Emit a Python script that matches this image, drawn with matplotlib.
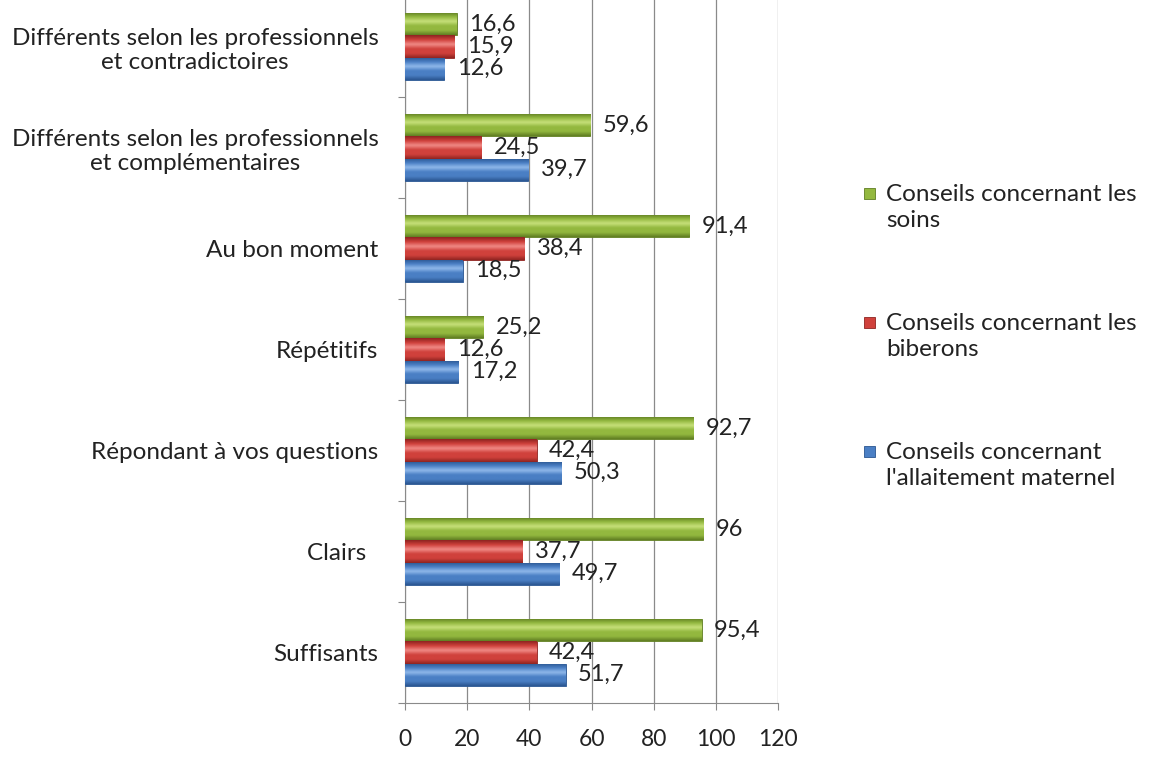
import numpy as np
import matplotlib.pyplot as plt
from matplotlib.patches import Rectangle
from matplotlib.colors import LinearSegmentedColormap

plt.rcParams['font.family'] = ['Lato', 'DejaVu Sans']

# Données
categories = ['Suffisants', 'Clairs  ', 'Répondant à vos questions', 'Répétitifs',
              'Au bon moment', 'Différents selon les professionnels\net complémentaires',
              'Différents selon les professionnels\net contradictoires']
allaitement = [51.7, 49.7, 50.3, 17.2, 18.5, 39.7, 12.6]
biberons = [42.4, 37.7, 42.4, 12.6, 38.4, 24.5, 15.9]
soins = [95.4, 96, 92.7, 25.2, 91.4, 59.6, 16.6]

noms = ['Conseils concernant\nl\'allaitement maternel',
        'Conseils concernant les\nbiberons',
        'Conseils concernant les\nsoins']
series = [allaitement, biberons, soins]
# (clair, moyen, sombre) pour un effet de relief
couleurs = [('#8fb8ea', '#4a7fc4', '#2a5590'),
            ('#f08a86', '#d0413c', '#8e2421'),
            ('#c6e07a', '#93b83f', '#5f7d22')]

fig = plt.figure(figsize=(11.51, 7.58), dpi=100)
ax = fig.add_axes([405 / 1151, 1 - 703 / 758, 373 / 1151, 707 / 758])

y = np.arange(len(categories))
h = 0.22
decal = [-0.22, 0.0, 0.22]

for vals, off, (c1, c2, c3) in zip(series, decal, couleurs):
    cmap = LinearSegmentedColormap.from_list('g', [c3, c2, c2, c1, c2, c3])
    grad = np.linspace(0, 1, 64).reshape(-1, 1)
    bars = ax.barh(y + off, vals, height=h, color=c2, edgecolor=c3, linewidth=0.6, zorder=3)
    for b, v in zip(bars, vals):
        x0, y0 = b.get_x(), b.get_y()
        im = ax.imshow(grad, cmap=cmap, aspect='auto', zorder=3.5,
                       extent=(x0, x0 + b.get_width(), y0, y0 + b.get_height()),
                       origin='lower', interpolation='bicubic')
        im.set_clip_path(b)
        txt = ('%g' % v).replace('.', ',')
        ax.text(v + 4, y0 + h / 2, txt, va='center', ha='left',
                fontsize=17, color='#222222', zorder=5)

ax.set_xlim(0, 120)
ax.set_ylim(-0.5, 6.5)
ax.set_xticks(np.arange(0, 121, 20))
ax.set_yticks(np.arange(-0.5, 6.6, 1.0), minor=False)
ax.set_yticklabels([])
ax.set_yticks(y, minor=True)
ax.set_yticklabels(categories, minor=True, fontsize=17.5, ha='right',
                   multialignment='center', color='#222222')
ax.tick_params(axis='y', which='minor', length=0, pad=19)
ax.tick_params(axis='y', which='major', length=5, color='#888888')
ax.tick_params(axis='x', length=5, color='#888888', labelsize=16.5, pad=14,
               labelcolor='#222222')
ax.grid(axis='x', color='#8a8a8a', linewidth=0.9, zorder=0)
for s in ['top', 'right']:
    ax.spines[s].set_visible(False)
for s in ['left', 'bottom']:
    ax.spines[s].set_color('#8a8a8a')

# Légende
for i, (nom, (c1, c2, c3)) in enumerate(zip(noms[::-1], couleurs[::-1])):
    yy = 1 - (194 + 129 * i) / 758
    fig.add_artist(Rectangle((864 / 1151, yy - 5 / 758), 11 / 1151, 11 / 758,
                             transform=fig.transFigure, facecolor=c2, edgecolor=c3, lw=0.6))
    fig.text(886 / 1151, yy - 13.5 / 758, nom, fontsize=17.5, va='center', ha='left',
             color='#222222', linespacing=1.3)

fig.savefig('out.png', dpi=100)
